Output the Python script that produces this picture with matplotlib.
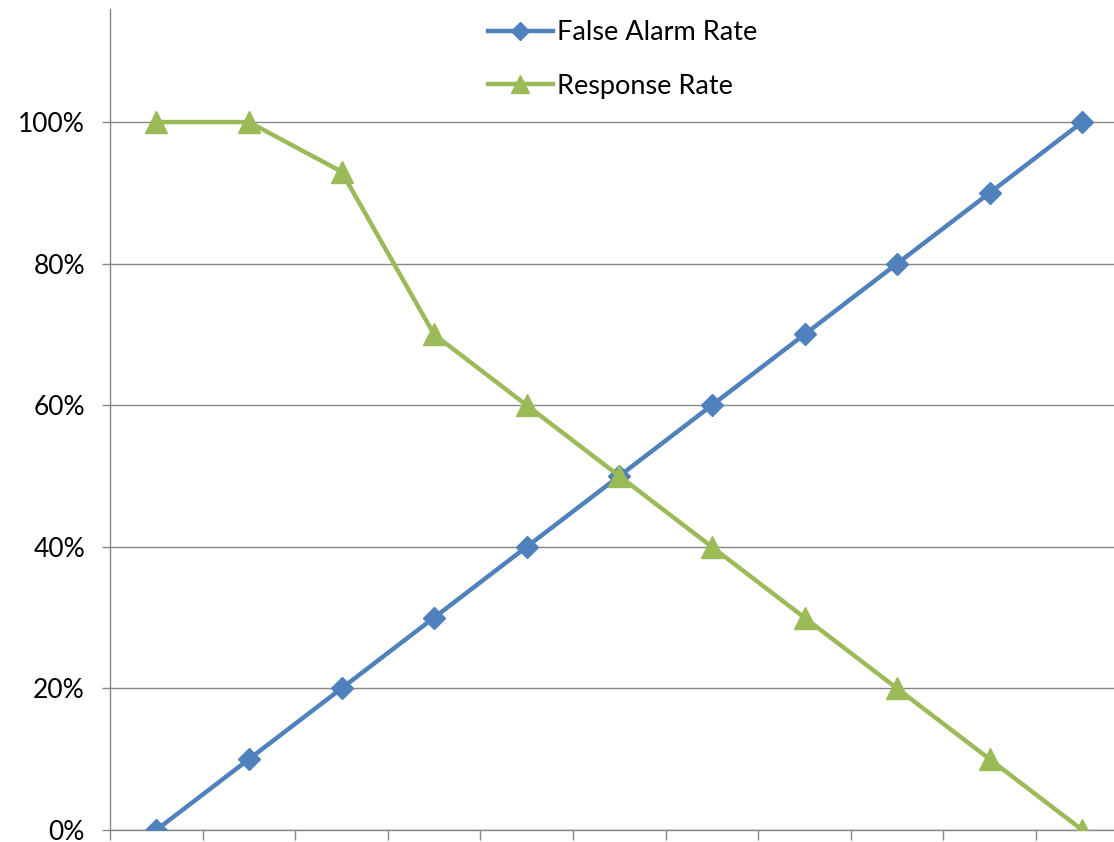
import numpy as np
import matplotlib.pyplot as plt
from matplotlib.ticker import FuncFormatter

plt.rcParams['font.family'] = ['Lato', 'DejaVu Sans']

# rates at each threshold step
steps = list(range(11))
false_alarm = [0, 10, 20, 30, 40, 50, 60, 70, 80, 90, 100]
response = [100, 100, 93, 70, 60, 50, 40, 30, 20, 10, 0]
yticks = [0, 20, 40, 60, 80, 100]

blue = '#4F81BD'
green = '#9BBB59'
grid = '#868686'

fig = plt.figure(figsize=(11.14, 8.42), dpi=100)
W, H = 1114.0, 842.0
ax = fig.add_axes([110 / W, 12 / H, 1018.6 / W, 820.5 / H])

ax.plot(steps, false_alarm, color=blue, lw=3.2, marker='D', ms=11,
        label='False Alarm Rate', zorder=3)
ax.plot(steps, response, color=green, lw=3.2, marker='^', ms=16,
        label='Response Rate', zorder=3)

ax.set_xlim(-0.5, 10.5)
ax.set_ylim(0, 115.9)
ax.set_yticks(yticks)
ax.yaxis.set_major_formatter(FuncFormatter(lambda v, p: '{:d}%'.format(int(v))))
ax.set_xticks(np.arange(-0.5, 11, 1))
ax.set_xticklabels([])

ax.grid(axis='y', color=grid, lw=1)
ax.set_axisbelow(True)
for s in ['top', 'right']:
    ax.spines[s].set_visible(False)
for s in ['left', 'bottom']:
    ax.spines[s].set_color(grid)
    ax.spines[s].set_linewidth(1)
ax.tick_params(axis='y', colors=grid, length=6, width=1, labelcolor='black',
               labelsize=19, pad=12)
ax.tick_params(axis='x', colors=grid, length=7, width=1, direction='out')

ax.legend(loc='upper left', bbox_to_anchor=(367 / 1018.6, 1.0), frameon=False,
          fontsize=19.5, handlelength=2.4, handletextpad=0.15, labelspacing=1.05,
          borderaxespad=0.0, markerscale=0.8)

fig.savefig('out.png', dpi=100)
